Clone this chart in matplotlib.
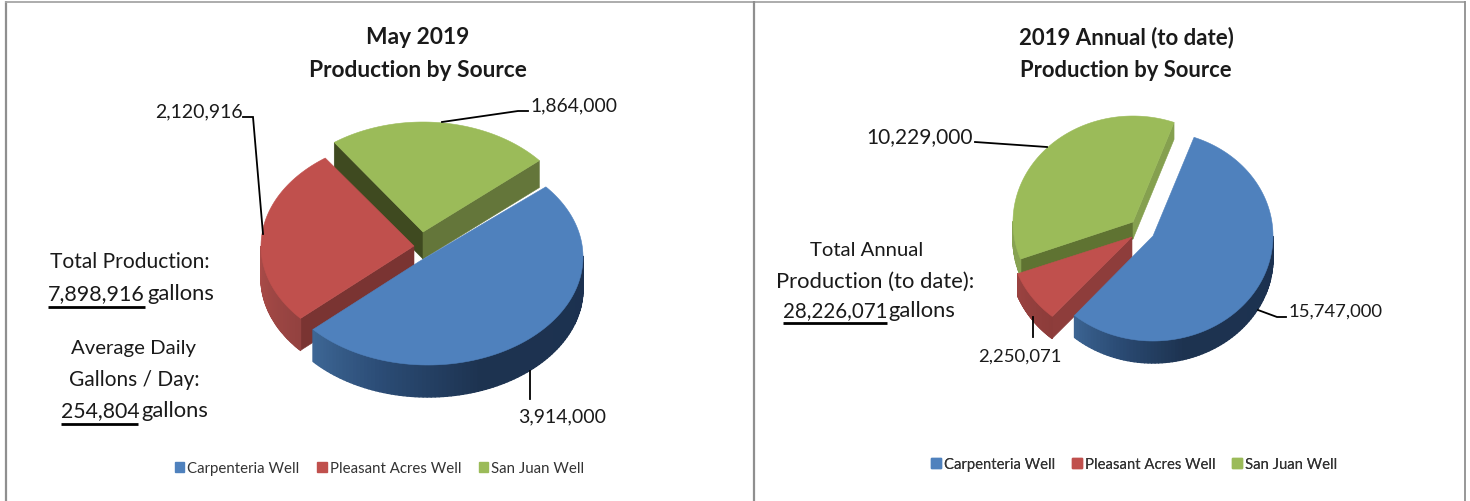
import numpy as np
import matplotlib
matplotlib.use("Agg")
import matplotlib.pyplot as plt
from matplotlib.patches import Polygon, Patch
from matplotlib.collections import PolyCollection
from matplotlib.colors import to_rgb

plt.rcParams['font.family'] = ['Lato', 'DejaVu Sans']

wells = ["Carpenteria Well", "Pleasant Acres Well", "San Juan Well"]
may_values = [3914000, 2120916, 1864000]
annual_values = [15747000, 2250071, 10229000]
may_title = ["May 2019", "Production by Source"]
annual_title = ["2019 Annual (to date)", "Production by Source"]
may_total = 7898916
may_daily = 254804
annual_total = 28226071

top_colors = ["#4f81bd", "#c0504d", "#9bbb59"]

W, H = 1470, 502
fig = plt.figure(figsize=(W / 100, H / 100), dpi=100, facecolor="white")
ax = fig.add_axes([0, 0, 1, 1])
ax.set_xlim(0, W)
ax.set_ylim(H, 0)
ax.axis("off")


def arc(geo, a0, a1, n=160):
    t = np.radians(np.linspace(a0, a1, n))
    return np.column_stack([geo["c"][0] + geo["r"][0] * np.cos(t),
                            geo["c"][1] - geo["r"][1] * np.sin(t)])


def draw_slice(a0, a1, geo, color, z):
    """a0 > a1: clockwise slice from a0 to a1 in degrees."""
    d = geo["d"]
    tip = np.array(geo.get("tip", geo["c"]), float)
    pts = arc(geo, a0, a1)
    # radial cut faces
    for end, col in ((pts[0], geo.get("cut0")), (pts[-1], geo.get("cut1"))):
        if col:
            ax.add_patch(Polygon([tip, end, end + [0, d], tip + [0, d]],
                                 closed=True, fc=col, ec=col, lw=0.4, zorder=z))
    # outer wall, only where it faces the viewer
    lo, hi = sorted((a0, a1))
    angs = np.linspace(lo, hi, 121)
    angs = angs[np.sin(np.radians(angs)) <= 0.01]
    if len(angs) > 1 and geo.get("wall"):
        stops, cols = zip(*geo["wall"])
        quads, fcs = [], []
        for u, v in zip(angs[:-1], angs[1:]):
            p, q = arc(geo, u, v, 2)
            quads.append([p, q, q + [0, d], p + [0, d]])
            m = ((u + v) / 2) % 360
            rgb = [np.interp(m, stops, [to_rgb(c)[i] for c in cols]) for i in range(3)]
            fcs.append(rgb)
        ax.add_collection(PolyCollection(quads, facecolors=fcs, edgecolors=fcs,
                                         linewidths=1.0, zorder=z))
    ax.add_patch(Polygon(np.vstack([tip, pts]), closed=True, fc=color, ec=color,
                         lw=0.4, zorder=z + 0.5))


def draw_pie(values, start, geos, order):
    v = np.array(values, float)
    sweep = v / v.sum() * 360
    ends = start - np.cumsum(sweep)
    begins = ends + sweep
    for z, i in enumerate(order):
        draw_slice(begins[i], ends[i], geos[i], top_colors[i], 2 + z)


may_geo = [
    dict(c=(428, 258), tip=(420, 262), r=(155, 108), d=32,
         wall=[(220, "#3f6998"), (255, "#2a4a73"), (290, "#1d3350"), (360, "#1c3150")]),
    dict(c=(414, 247), r=(153, 108), d=32, cut0="#7a3432",
         wall=[(180, "#ad4c49"), (222, "#934240"), (240, "#934240")]),
    dict(c=(423, 233), r=(153, 110), d=27, cut0="#3f4a20", cut1="#64763a"),
]

annual_geo = [
    dict(c=(1153, 237), r=(120, 105), d=22,
         wall=[(225, "#3f6998"), (255, "#2a4a73"), (285, "#1d3350"), (360, "#1c3150")]),
    dict(c=(1132, 238), r=(122, 105), d=22, cut0="#8e3d3b",
         wall=[(190, "#a04543"), (230, "#8c3c3a")]),
    dict(c=(1133, 223), r=(120, 106), d=17, cut0="#5f7332", cut1="#85a04f",
         wall=[(180, "#87a252"), (210, "#87a252")]),
]

draw_pie(may_values, 40.5, may_geo, [2, 1, 0])
draw_pie(annual_values, 70, annual_geo, [2, 1, 0])

# panel borders
border = "#8f8f8f"
ax.plot([6, 6], [2, H], color=border, lw=1.6, zorder=1, solid_capstyle="butt")
ax.plot([5, 1465], [3, 3], color="#a6a6a6", lw=1.3, zorder=1, solid_capstyle="butt")
ax.plot([754, 754], [2, H], color=border, lw=1.6, zorder=1, solid_capstyle="butt")
ax.plot([1465, 1465], [2, H], color=border, lw=1.3, zorder=1, solid_capstyle="butt")

TXT = "#1a1a1a"


def T(x, y, s, size=14, ha="center", weight="normal"):
    ax.text(x, y + 1.5, s, fontsize=size, ha=ha, va="center", color=TXT, weight=weight, zorder=20)


def leader(xs, ys):
    ax.plot(xs, ys, color="black", lw=1.3, zorder=15, solid_joinstyle="miter")


def underline(x0, x1, y):
    ax.plot([x0, x1], [y, y], color="black", lw=2, zorder=15, solid_capstyle="butt")


T(418, 36, may_title[0], 16.4, weight="bold")
T(418, 69, may_title[1], 16.4, weight="bold")
T(1126, 36, annual_title[0], 16, weight="bold")
T(1126, 69, annual_title[1], 15.8, weight="bold")

# data labels
T(243, 110, f"{may_values[1]:,}", 14, ha="right")
T(530, 104, f"{may_values[2]:,}", 13.9, ha="left")
T(518, 415, f"{may_values[0]:,}", 14, ha="left")
T(973, 136, f"{annual_values[2]:,}", 15, ha="right")
T(978, 355, f"{annual_values[1]:,}", 13.3, ha="left")
T(1289, 310, f"{annual_values[0]:,}", 13.3, ha="left")

leader([243, 253, 263], [118, 118, 235])
leader([442, 518, 528], [123, 112, 112])
leader([530, 530], [372, 400])
leader([975, 1047], [143, 148])
leader([1033, 1033], [318, 338])
leader([1258, 1277, 1286], [311, 318, 318])

# side notes
T(130, 261, "Total Production:", 15.1)
T(48, 293, f"{may_total:,}", 15.5, ha="left")
T(147, 293, "gallons", 15.8, ha="left")
underline(48, 145, 308)
T(134, 347, "Average Daily", 14.7)
T(134, 379, "Gallons / Day:", 15)
T(61, 410, f"{may_daily:,}", 15.3, ha="left")
T(141, 410, "gallons", 15.8, ha="left")
underline(61, 138, 425)
T(867, 249, "Total Annual", 14.6)
T(875, 280, "Production (to date):", 15.8)
T(783, 310, f"{annual_total:,}", 14.8, ha="left")
T(888, 310, "gallons", 15.8, ha="left")
underline(783, 887, 324)

# legends
handles = [Patch(fc=c, ec=c) for c in top_colors]
for cx, cy, size in ((379.5, 469, 10.85), (1134, 465, 10.7)):
    leg = ax.legend(handles, wells, ncol=3, loc="center",
                    bbox_to_anchor=(cx, cy), bbox_transform=ax.transData,
                    frameon=False, fontsize=size, labelcolor="#333333",
                    handlelength=0.65, handleheight=0.65, handletextpad=0.2,
                    columnspacing=1.15, borderpad=0, borderaxespad=0)
    leg.set_zorder(20)
    ax.add_artist(leg)

fig.savefig("out.png", dpi=100, facecolor="white")
